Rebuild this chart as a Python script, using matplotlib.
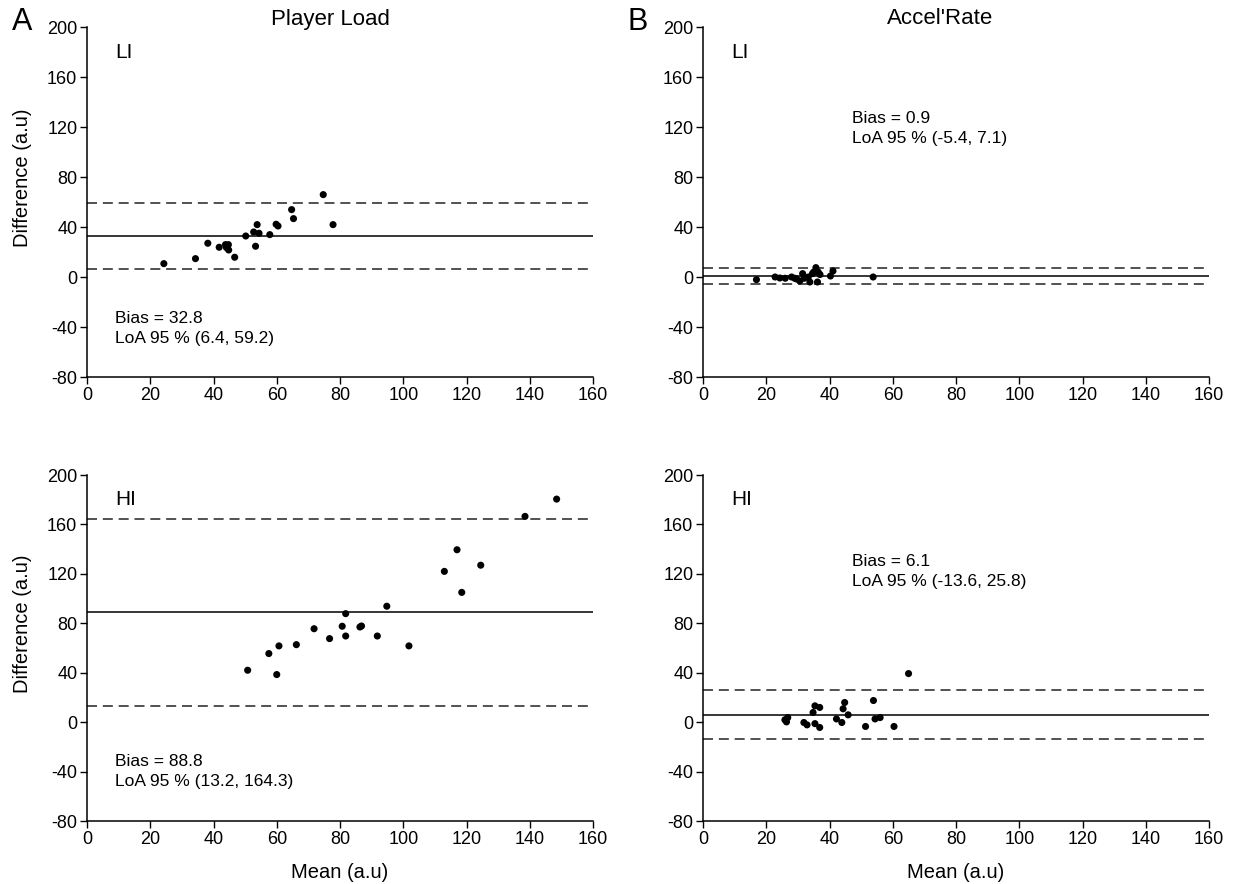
import matplotlib
matplotlib.use("Agg")
import matplotlib.pyplot as plt
import numpy as np

plt.rcParams['font.family'] = ['Liberation Sans', 'DejaVu Sans']
plt.rcParams['axes.unicode_minus'] = False

# Player Load, LI
pl_li_mean = [24.3, 34.3, 38.2, 41.8, 43.8, 44.7, 44.1, 44.8, 46.7, 50.2, 52.7,
              53.3, 53.8, 54.4, 57.8, 59.8, 60.4, 64.7, 65.3, 74.7, 77.8]
pl_li_diff = [10.7, 14.7, 27.0, 23.8, 25.9, 25.9, 23.5, 21.6, 15.8, 32.8, 36.0,
              24.6, 41.9, 35.0, 33.9, 42.2, 40.8, 53.9, 46.7, 65.9, 41.9]
# Accel'Rate, LI
ar_li_mean = [16.9, 22.8, 24.3, 26.0, 28.0, 29.0, 29.6, 30.6, 31.5, 32.0, 33.3, 33.8,
              34.6, 35.0, 35.7, 36.2, 36.4, 37.0, 40.3, 41.1, 53.8]
ar_li_diff = [-2.1, 0.0, -0.8, -1.0, 0.0, -1.0, -1.6, -3.2, 2.7, -1.0, 0.0, -4.0,
              2.7, 4.0, 7.5, -4.0, 4.0, 2.0, 0.8, 4.8, 0.0]
# Player Load, HI
pl_hi_mean = [50.8, 57.5, 60.0, 60.7, 66.2, 71.8, 76.7, 80.7, 81.8, 81.8, 86.3,
              86.8, 91.8, 94.8, 101.8, 113.0, 117.0, 118.5, 124.5, 138.5, 148.5]
pl_hi_diff = [42.0, 55.5, 38.5, 61.7, 62.7, 75.6, 67.6, 77.6, 87.8, 69.7, 77.0,
              77.8, 69.7, 93.8, 61.7, 122.0, 139.5, 105.0, 127.0, 166.5, 180.5]
# Accel'Rate, HI
ar_hi_mean = [25.9, 26.4, 26.8, 31.9, 32.9, 34.8, 35.4, 35.4, 36.9, 36.9, 42.2,
              43.9, 44.3, 44.8, 45.9, 51.4, 53.9, 54.4, 56.0, 60.4, 65.0]
ar_hi_diff = [1.9, 0.2, 3.7, -0.3, -2.2, 7.8, 13.2, -1.2, 11.9, -4.3, 2.6,
              -0.3, 10.8, 15.9, 5.9, -3.5, 17.5, 2.6, 3.7, -3.5, 39.3]

bias = {'pl_li': 32.8, 'ar_li': 0.9, 'pl_hi': 88.8, 'ar_hi': 6.1}
loa = {'pl_li': (6.4, 59.2), 'ar_li': (-5.4, 7.1), 'pl_hi': (13.2, 164.3), 'ar_hi': (-13.6, 25.8)}

x_ticks = [0, 20, 40, 60, 80, 100, 120, 140, 160]
y_ticks = [-80, -40, 0, 40, 80, 120, 160, 200]

fig = plt.figure(figsize=(12.33, 8.84), dpi=100)
W, H = 1233, 884
def rect(x0, y0, x1, y1):
    return [x0 / W, 1 - y1 / H, (x1 - x0) / W, (y1 - y0) / H]

axes = {
    'pl_li': fig.add_axes(rect(87, 27, 593, 377)),
    'ar_li': fig.add_axes(rect(703, 27, 1209, 377)),
    'pl_hi': fig.add_axes(rect(87, 475, 593, 821)),
    'ar_hi': fig.add_axes(rect(703, 475, 1209, 821)),
}
data = {
    'pl_li': (pl_li_mean, pl_li_diff),
    'ar_li': (ar_li_mean, ar_li_diff),
    'pl_hi': (pl_hi_mean, pl_hi_diff),
    'ar_hi': (ar_hi_mean, ar_hi_diff),
}
labels = {'pl_li': 'LI', 'ar_li': 'LI', 'pl_hi': 'HI', 'ar_hi': 'HI'}
text_pos = {'pl_li': (9, -41), 'pl_hi': (9, -40), 'ar_li': (47, 119), 'ar_hi': (47, 122)}

for key, ax in axes.items():
    mx, dy = data[key]
    ax.axhline(bias[key], color='black', lw=1.1, zorder=1)
    for v in loa[key]:
        ax.axhline(v, color='#333333', lw=1.2, ls=(0, (6, 3.5)), zorder=1)
    ax.scatter(mx, dy, s=26, color='black', edgecolors='none', zorder=3)
    ax.set_xlim(0, 160)
    ax.set_ylim(-80, 200)
    ax.set_xticks(x_ticks)
    ax.set_yticks(y_ticks)
    ax.tick_params(direction='out', length=5, width=1, labelsize=13, pad=2)
    for s in ['top', 'right']:
        ax.spines[s].set_visible(False)
    for s in ['left', 'bottom']:
        ax.spines[s].set_linewidth(1.1)
    ax.text(9, 180, labels[key], fontsize=15, ha='left', va='center')
    tx, ty = text_pos[key]
    lo, hi = loa[key]
    ax.text(tx, ty, f"Bias = {bias[key]}\nLoA 95 % ({lo}, {hi})", fontsize=12.5,
            ha='left', va='center', linespacing=1.4)

for k in ['pl_li', 'pl_hi']:
    axes[k].set_ylabel('Difference (a.u)', fontsize=14.5)
    axes[k].yaxis.set_label_coords(-0.108, 0.57)
axes['pl_hi'].set_xlabel('Mean (a.u)', fontsize=14.5, labelpad=11)
axes['ar_hi'].set_xlabel('Mean (a.u)', fontsize=14.5, labelpad=11)

fig.text(330 / W, 1 - 19 / H, 'Player Load', fontsize=16, ha='center', va='center')
fig.text(940 / W, 1 - 19 / H, "Accel'Rate", fontsize=16, ha='center', va='center')
fig.text(22 / W, 1 - 22 / H, 'A', fontsize=22, ha='center', va='center')
fig.text(638 / W, 1 - 22 / H, 'B', fontsize=22, ha='center', va='center')

fig.savefig('out.png', dpi=100)
